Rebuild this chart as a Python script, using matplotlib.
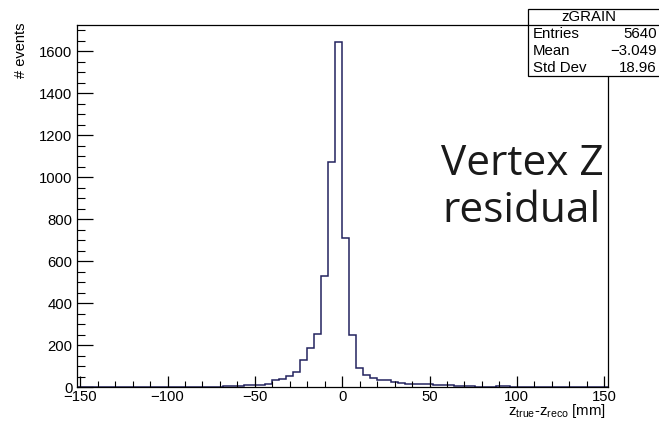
import numpy as np
import matplotlib
matplotlib.use("Agg")
import matplotlib.pyplot as plt
from matplotlib.patches import Rectangle
from matplotlib.lines import Line2D
from matplotlib.ticker import MultipleLocator

# Histogram: 76 bins of 4 mm between -152 and 152 mm
bin_lo = -152.0
bin_hi = 152.0
n_bins = 76
counts = [
    0, 0, 0, 0, 0, 2, 0, 0, 1, 2,
    1, 2, 0, 0, 2, 2, 0, 0, 1, 2,
    2, 5, 4, 8, 9, 12, 12, 18, 36, 38,
    54, 74, 130, 186, 254, 528, 1073, 1645, 710, 249,
    90, 59, 46, 34, 33, 26, 19, 18, 15, 14,
    18, 12, 9, 9, 6, 5, 4, 1, 1, 1,
    5, 4, 2, 2, 1, 1, 1, 1, 1, 1,
    1, 1, 0, 2, 0, 0,
]

hist_name = "zGRAIN"
stat_labels = ["Entries", "Mean", "Std Dev"]
stat_values = ["5640", "\u22123.049", "18.96"]

x_ticks = [-150, -100, -50, 0, 50, 100, 150]
y_ticks = [0, 200, 400, 600, 800, 1000, 1200, 1400, 1600]

plt.rcParams["font.family"] = ["Liberation Sans", "DejaVu Sans"]
plt.rcParams["mathtext.default"] = "regular"
plt.rcParams["axes.unicode_minus"] = True

W, H = 659, 422
fig = plt.figure(figsize=(W / 100, H / 100), dpi=100)
fig.patch.set_facecolor("white")

ax_l, ax_r, ax_t, ax_b = 76.7, 607.7, 24.7, 387.3
ax = fig.add_axes([ax_l / W, 1 - ax_b / H, (ax_r - ax_l) / W, (ax_b - ax_t) / H])

edges = np.linspace(bin_lo, bin_hi, n_bins + 1)
vals = np.array(counts, dtype=float)
ax.stairs(vals, edges, color="#23235f", linewidth=1.1)

ax.set_xlim(bin_lo, bin_hi)
ax.set_ylim(0, 1.05 * vals.max())

ax.set_xticks(x_ticks)
ax.set_xticklabels([str(v).replace("-", "\u2212") for v in x_ticks])
ax.xaxis.set_minor_locator(MultipleLocator(10))
ax.set_yticks(y_ticks)
ax.yaxis.set_minor_locator(MultipleLocator(50))

ax.tick_params(axis="both", which="both", direction="in", colors="black",
               labelsize=10.7, top=False, right=False)
ax.tick_params(axis="x", which="major", length=8.1, width=0.9, pad=2)
ax.tick_params(axis="x", which="minor", length=4.4, width=0.8)
ax.tick_params(axis="y", which="major", length=11.5, width=0.9, pad=3)
ax.tick_params(axis="y", which="minor", length=5.8, width=0.8)
for s in ax.spines.values():
    s.set_linewidth(0.9)
    s.set_color("black")

# axis titles, ROOT style (aligned to the axis ends)
fig.text(21 / W, 1 - 22 / H, "# events", rotation=90, ha="center", va="top",
         fontsize=10.5)
fig.text(606 / W, 1 - 415.5 / H, "$z_{true}$-$z_{reco}$ [mm]", ha="right",
         va="baseline", fontsize=10.8)

# statistics box
box_l, box_t, box_r, box_b = 528, 9, 660, 76
fig.add_artist(Rectangle((box_l / W, 1 - box_b / H), (box_r - box_l) / W,
                         (box_b - box_t) / H, transform=fig.transFigure,
                         facecolor="white", edgecolor="black", linewidth=0.9,
                         clip_on=False))
fig.add_artist(Line2D([box_l / W, box_r / W], [1 - 25 / H, 1 - 25 / H],
                      transform=fig.transFigure, color="black", linewidth=0.9))
fig.text(589 / W, 1 - 17 / H, hist_name, ha="center", va="center", fontsize=10.8)
row_y = [34.5, 51, 67.5]
for lab, val, yy in zip(stat_labels, stat_values, row_y):
    fig.text(533 / W, 1 - yy / H, lab, ha="left", va="center", fontsize=10.8)
    fig.text(657 / W, 1 - yy / H, val, ha="right", va="center", fontsize=10.8)

# annotation
fig.text(604 / W, 1 - 175 / H, "Vertex Z", ha="right", va="baseline",
         fontsize=30.5, family=["Open Sans", "DejaVu Sans"], color="#1a1a1a")
fig.text(601 / W, 1 - 222 / H, "residual", ha="right", va="baseline",
         fontsize=30.5, family=["Open Sans", "DejaVu Sans"], color="#1a1a1a")

fig.savefig("out.png", dpi=100, facecolor="white")
